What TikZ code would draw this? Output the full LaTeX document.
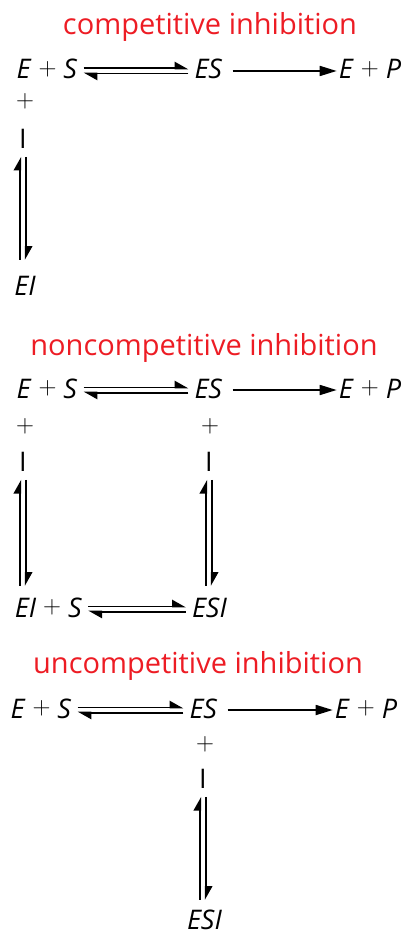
\documentclass[tikz,border=0pt]{standalone}
\usepackage{fontspec}
\setmainfont{Open Sans}
\usepackage{xcolor}
\usepackage{tikz}
\usetikzlibrary{arrows.meta}

\definecolor{inhred}{RGB}{237,28,36}
\newcommand{\spfont}{\fontsize{27}{32}\selectfont}
\newcommand{\ttlfont}{\fontsize{29}{34}\selectfont}
\newcommand{\pls}{{\fontsize{23}{23}\selectfont\raisebox{3.5pt}{$+$}}}

\begin{document}
\begin{tikzpicture}[
        x=1pt, y=-1pt,
        sp/.style  ={font=\spfont, inner sep=0pt, anchor=base, text height=19pt, text depth=3pt},
        sym/.style ={font=\spfont, inner sep=0pt},
        ttl/.style ={font=\ttlfont, text=inhred, inner sep=0pt, anchor=base},
        fwd/.style ={line width=1.8pt, -{Triangle[left, length=12pt, width=13pt]},
                     shorten <=6pt, shorten >=6pt, transform canvas={yshift=2.6pt}},
        bck/.style ={line width=1.8pt, -{Triangle[left, length=12pt, width=13pt]},
                     shorten <=6pt, shorten >=6pt, transform canvas={yshift=-2.6pt}},
        rxn/.style ={line width=1.7pt, -{Triangle[length=17pt, width=10pt]},
                     shorten <=10pt, shorten >=2pt},
        vup/.style ={line width=1.8pt, -{Triangle[left, length=12pt, width=13pt]},
                     shorten <=12pt, shorten >=8pt, transform canvas={xshift=-2.8pt}},
        vdn/.style ={line width=1.8pt, -{Triangle[left, length=12pt, width=13pt]},
                     shorten <=8pt, shorten >=12pt, transform canvas={xshift=2.8pt}}
    ]
        \useasboundingbox (0,0) rectangle (407,936);
        % competitive inhibition
        \node[ttl] (t1) at (210,35) {competitive inhibition};
        \node[sp] (es1) at (47,79)    {\textit{E} \pls{} \textit{S}};
        \node[sp] (c1)  at (208.5,79) {\textit{ES}};
        \node[sp] (p1)  at (370,79)   {\textit{E} \pls{} \textit{P}};
        \node[sym] (pl1) at (25,102)  {\pls};
        \node[sym] (in1) at (23,139)  {I};
        \node[sp] (ei1) at (25,295)   {\textit{EI}};
        \draw[fwd] (es1) -- (c1);
        \draw[bck] (c1) -- (es1);
        \draw[rxn] (c1) -- (p1);
        \draw[vup, shorten <=16pt] (in1.south |- ei1.north) -- (in1.south);
        \draw[vdn, shorten >=16pt] (in1.south) -- (in1.south |- ei1.north);
        % noncompetitive inhibition
        \node[ttl] (t2) at (204,355) {noncompetitive inhibition};
        \node[sp] (es2) at (47,398)    {\textit{E} \pls{} \textit{S}};
        \node[sp] (c2)  at (208.5,398) {\textit{ES}};
        \node[sp] (p2)  at (370,398)   {\textit{E} \pls{} \textit{P}};
        \node[sym] (pl2a) at (25,427)  {\pls};
        \node[sym] (pl2b) at (210,427) {\pls};
        \node[sym] (in2a) at (23,462)  {I};
        \node[sym] (in2b) at (209,462) {I};
        \node[sp] (ei2)  at (48.5,617)  {\textit{EI} \pls{} \textit{S}};
        \node[sp] (esi2) at (209.5,617) {\textit{ESI}};
        \draw[fwd] (es2) -- (c2);
        \draw[bck] (c2) -- (es2);
        \draw[rxn] (c2) -- (p2);
        \draw[vup] (in2a.south |- ei2.north) -- (in2a.south);
        \draw[vdn] (in2a.south) -- (in2a.south |- ei2.north);
        \draw[vup] (in2b.south |- esi2.north) -- (in2b.south);
        \draw[vdn] (in2b.south) -- (in2b.south |- esi2.north);
        \draw[fwd] (ei2) -- (esi2);
        \draw[bck] (esi2) -- (ei2);
        % uncompetitive inhibition
        \node[ttl] (t3) at (198,673) {uncompetitive inhibition};
        \node[sp] (es3) at (41,718)    {\textit{E} \pls{} \textit{S}};
        \node[sp] (c3)  at (203.5,718) {\textit{ES}};
        \node[sp] (p3)  at (366,718)   {\textit{E} \pls{} \textit{P}};
        \node[sym] (pl3) at (205,745)  {\pls};
        \node[sym] (in3) at (203,779)  {I};
        \node[sp, text depth=0pt] (esi3) at (204.5,929) {\textit{ESI}};
        \draw[fwd] (es3) -- (c3);
        \draw[bck] (c3) -- (es3);
        \draw[rxn] (c3) -- (p3);
        \draw[vup, shorten <=10pt] (in3.south |- esi3.north) -- (in3.south);
        \draw[vdn, shorten >=10pt] (in3.south) -- (in3.south |- esi3.north);
    \end{tikzpicture}
\end{document}
